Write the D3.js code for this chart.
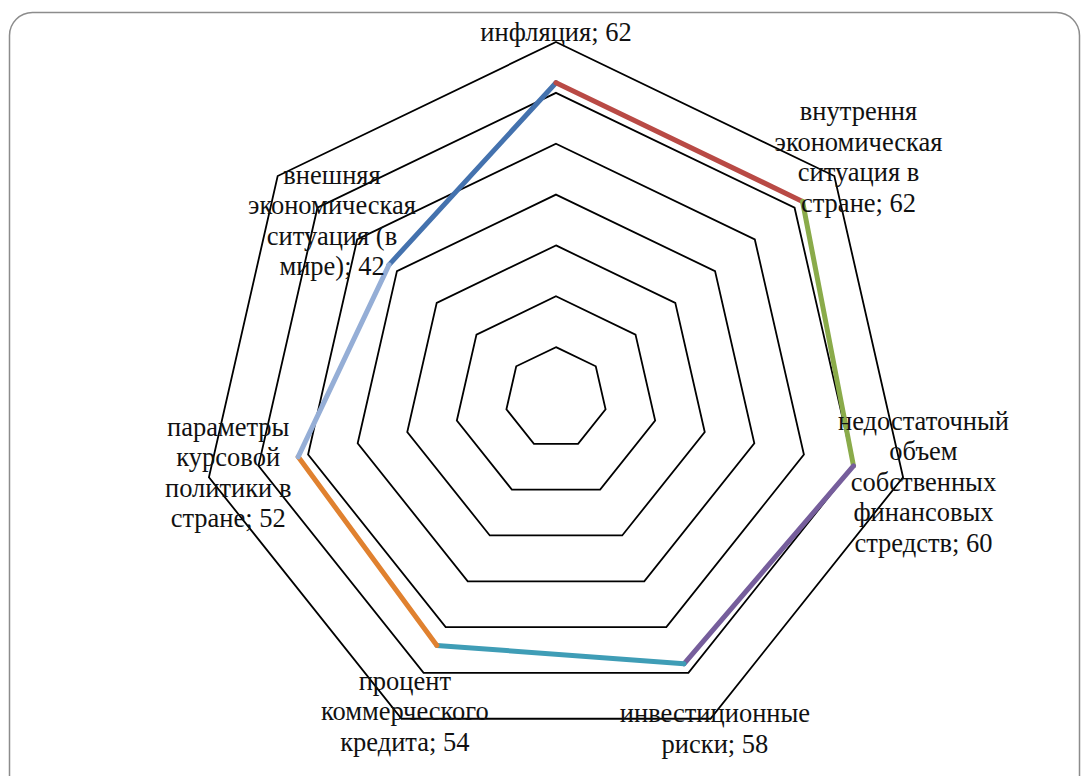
<!DOCTYPE html>
<html lang="ru">
<head>
<meta charset="utf-8">
<title>Факторы риска</title>
<script src="https://cdn.jsdelivr.net/npm/d3@7"></script>
<style>
  html, body { margin: 0; padding: 0; background: #ffffff; }
  svg { display: block; }
</style>
</head>
<body>
<svg id="chart" width="1088" height="776"></svg>
<script>
// Categories (axes of the radar), clockwise from the top
const categories = [
  "инфляция",
  "внутрення экономическая ситуация в стране",
  "недостаточный объем собственных финансовых стредств",
  "инвестиционные риски",
  "процент коммерческого кредита",
  "параметры курсовой политики в стране",
  "внешняя экономическая ситуация (в мире)"
];
// Values per category
const values = [62, 62, 60, 58, 54, 52, 42];
// Line breaks used in the data labels (category part)
const labelLines = [
  ["инфляция"],
  ["внутрення", "экономическая", "ситуация в", "стране"],
  ["недостаточный", "объем", "собственных", "финансовых", "стредств"],
  ["инвестиционные", "риски"],
  ["процент", "коммерческого", "кредита"],
  ["параметры", "курсовой", "политики в", "стране"],
  ["внешняя", "экономическая", "ситуация (в", "мире)"]
];
// Radial grid levels
const gridTicks = [10, 20, 30, 40, 50, 60, 70];

// Styling: each segment coloured by the point it runs into
const segmentColors = ["#4472ae", "#b94a45", "#8aab4a", "#765e9c", "#3f9db6", "#e0812f", "#95aed6"];
// Data label offsets from their point (centre of text block)
const labelOffsets = [[0, -50], [56, -44], [70, 16], [31, 65], [-32, 66], [-70, 16], [-57, -44]];
const labelFont = "Liberation Serif";

const svg = d3.select("#chart");
const cx = 556, cy = 398;
const n = categories.length;

// Frame
svg.append("rect")
  .attr("x", 9.5).attr("y", 12.5)
  .attr("width", 1070).attr("height", 800)
  .attr("rx", 23).attr("ry", 23)
  .attr("fill", "none")
  .attr("stroke", "#8c8c8c")
  .attr("stroke-width", 1.5);

const r = d3.scaleLinear().domain([0, 70]).range([0, 356]);
const angle = d3.scaleLinear().domain([0, n]).range([0, 2 * Math.PI]);

const g = svg.append("g").attr("transform", `translate(${cx},${cy})`);

const pt = (i, v) => {
  const a = angle(i);
  return [r(v) * Math.sin(a), -r(v) * Math.cos(a)];
};

// Grid polygons
const lineClosed = d3.line().curve(d3.curveLinearClosed);
g.selectAll("path.grid")
  .data(gridTicks)
  .join("path")
  .attr("class", "grid")
  .attr("d", t => lineClosed(d3.range(n).map(i => pt(i, t))))
  .attr("fill", "none")
  .attr("stroke", "#000")
  .attr("stroke-width", 1.8)
  .attr("stroke-linejoin", "miter");

// Data segments, one colour each
const segs = d3.range(n).map(i => {
  const j = (i + 1) % n;
  return { from: pt(i, values[i]), to: pt(j, values[j]), color: segmentColors[j] };
});
// closing segment first so the others sit over it
const order = [n - 1].concat(d3.range(n - 1));
g.selectAll("line.seg")
  .data(order.map(k => segs[k]))
  .join("line")
  .attr("class", "seg")
  .attr("x1", d => d.from[0]).attr("y1", d => d.from[1])
  .attr("x2", d => d.to[0]).attr("y2", d => d.to[1])
  .attr("stroke", d => d.color)
  .attr("stroke-width", 5)
  .attr("stroke-linecap", "round");

// Data labels: category; value
const lh = 30.5;
const labels = g.selectAll("text.lbl")
  .data(d3.range(n))
  .join("text")
  .attr("class", "lbl")
  .attr("font-family", labelFont)
  .attr("font-size", 26.5)
  .attr("fill", "#111")
  .attr("text-anchor", "middle");

labels.each(function (i) {
  const p = pt(i, values[i]);
  const lx = p[0] + labelOffsets[i][0];
  const ly = p[1] + labelOffsets[i][1];
  const lines = labelLines[i].slice();
  lines[lines.length - 1] = lines[lines.length - 1] + "; " + values[i];
  const m = lines.length;
  d3.select(this).selectAll("tspan")
    .data(lines)
    .join("tspan")
    .attr("x", lx)
    .attr("y", (d, k) => ly + (k - (m - 1) / 2) * lh)
    .attr("dy", "0.33em")
    .text(d => d);
});
</script>
</body>
</html>
